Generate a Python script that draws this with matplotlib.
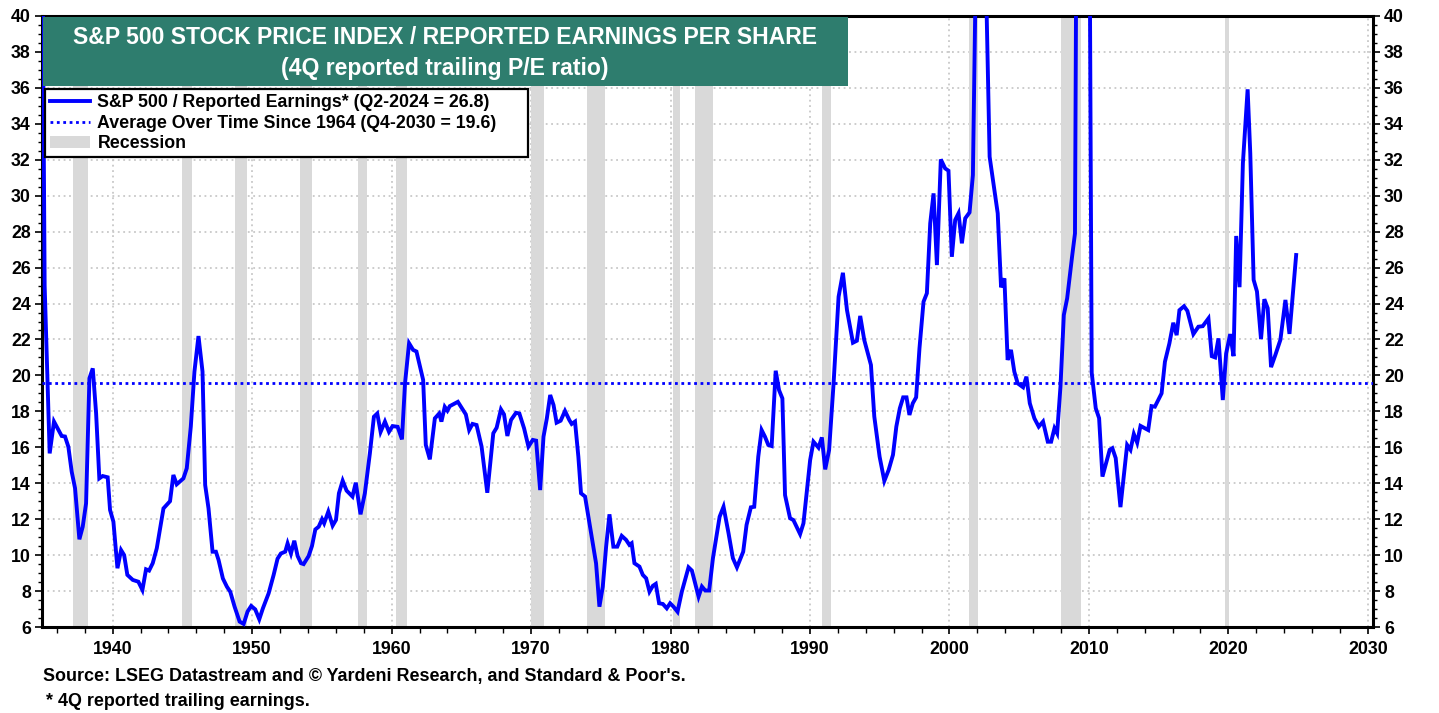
import numpy as np
import matplotlib
matplotlib.use("Agg")
import matplotlib.pyplot as plt
from matplotlib.lines import Line2D
from matplotlib.patches import Patch, Rectangle

plt.rcParams['font.family'] = ['Liberation Sans', 'DejaVu Sans']
plt.rcParams['font.weight'] = 'bold'

# S&P 500 / reported earnings (4Q trailing P/E)
pe_years = [
    1934.98, 1935.12, 1935.48, 1935.79, 1936.34, 1936.58, 1936.82, 1937.06, 1937.30, 1937.61,
    1937.85, 1938.09, 1938.33, 1938.57, 1938.81, 1939.04, 1939.28, 1939.64, 1939.81, 1940.05,
    1940.34, 1940.60, 1940.82, 1941.05, 1941.44, 1941.84, 1942.13, 1942.39, 1942.61, 1942.87,
    1943.16, 1943.64, 1944.11, 1944.35, 1944.59, 1945.07, 1945.31, 1945.60, 1945.86, 1946.15,
    1946.44, 1946.63, 1946.87, 1947.16, 1947.40, 1947.59, 1947.90, 1948.19, 1948.43, 1948.74,
    1949.10, 1949.39, 1949.67, 1949.93, 1950.22, 1950.51, 1950.77, 1951.18, 1951.54, 1951.82,
    1952.06, 1952.37, 1952.54, 1952.78, 1953.02, 1953.26, 1953.50, 1953.69, 1954.05, 1954.29,
    1954.53, 1954.77, 1955.01, 1955.16, 1955.46, 1955.77, 1956.01, 1956.22, 1956.49, 1956.77,
    1957.19, 1957.43, 1957.77, 1958.08, 1958.44, 1958.73, 1958.97, 1959.21, 1959.52, 1959.81,
    1960.07, 1960.43, 1960.74, 1960.96, 1961.25, 1961.54, 1961.78, 1962.26, 1962.45, 1962.74,
    1963.10, 1963.41, 1963.57, 1963.81, 1964.00, 1964.17, 1964.75, 1965.32, 1965.56, 1965.80,
    1966.09, 1966.45, 1966.86, 1967.29, 1967.53, 1967.84, 1968.06, 1968.30, 1968.56, 1968.92,
    1969.16, 1969.50, 1969.81, 1970.12, 1970.36, 1970.65, 1970.89, 1971.13, 1971.37, 1971.61,
    1971.83, 1972.12, 1972.43, 1972.74, 1972.91, 1973.15, 1973.39, 1973.58, 1973.87, 1974.23,
    1974.66, 1974.90, 1975.14, 1975.38, 1975.62, 1975.90, 1976.18, 1976.50, 1976.81, 1977.05,
    1977.21, 1977.41, 1977.77, 1978.01, 1978.25, 1978.49, 1978.73, 1978.94, 1979.18, 1979.45,
    1979.73, 1979.97, 1980.21, 1980.50, 1980.81, 1981.29, 1981.53, 1982.01, 1982.25, 1982.49,
    1982.77, 1983.04, 1983.52, 1983.80, 1984.16, 1984.47, 1984.76, 1985.21, 1985.45, 1985.76,
    1986.00, 1986.29, 1986.53, 1986.77, 1987.01, 1987.25, 1987.54, 1987.78, 1988.02, 1988.21,
    1988.57, 1988.81, 1989.29, 1989.53, 1990.01, 1990.25, 1990.61, 1990.85, 1991.09, 1991.37,
    1991.69, 1992.05, 1992.36, 1992.65, 1993.08, 1993.36, 1993.60, 1993.89, 1994.37, 1994.61,
    1994.99, 1995.33, 1995.64, 1995.95, 1996.19, 1996.44, 1996.68, 1996.92, 1997.13, 1997.37,
    1997.61, 1997.85, 1998.14, 1998.38, 1998.62, 1998.86, 1999.10, 1999.38, 1999.69, 1999.93,
    2000.17, 2000.41, 2000.65, 2000.89, 2001.13, 2001.44, 2001.68, 2001.97, 2002.51, 2002.88,
    2003.46, 2003.70, 2003.94, 2004.17, 2004.41, 2004.65, 2004.89, 2005.28, 2005.52, 2005.76,
    2006.09, 2006.40, 2006.71, 2007.05, 2007.29, 2007.53, 2007.72, 2007.96, 2008.20, 2008.44,
    2008.79, 2009.00, 2009.25, 2009.50, 2009.75, 2009.97, 2010.20, 2010.49, 2010.73, 2010.97,
    2011.49, 2011.68, 2011.92, 2012.26, 2012.74, 2012.98, 2013.22, 2013.46, 2013.70, 2014.25,
    2014.49, 2014.73, 2015.21, 2015.45, 2015.77, 2016.05, 2016.29, 2016.49, 2016.82, 2017.06,
    2017.49, 2017.85, 2018.16, 2018.57, 2018.81, 2019.05, 2019.29, 2019.60, 2019.84, 2020.13,
    2020.37, 2020.56, 2020.80, 2021.04, 2021.38, 2021.57, 2021.81, 2022.05, 2022.34, 2022.58,
    2022.82, 2023.06, 2023.37, 2023.73, 2024.09, 2024.38, 2024.86,
]
pe_values = [
    42.0, 25.0, 15.66, 17.43, 16.63, 16.6, 16.03, 14.64, 13.72, 10.88,
    11.58, 12.88, 19.84, 20.39, 17.89, 14.27, 14.4, 14.33, 12.51, 11.86,
    9.27, 10.28, 10.0, 8.9, 8.62, 8.52, 8.06, 9.21, 9.14, 9.55,
    10.38, 12.6, 13.0, 14.46, 13.94, 14.27, 14.83, 17.15, 20.21, 22.19,
    20.21, 13.9, 12.6, 10.19, 10.19, 9.73, 8.7, 8.24, 7.96, 7.13,
    6.3, 6.17, 6.86, 7.17, 6.98, 6.43, 7.04, 7.87, 8.9, 9.8,
    10.09, 10.19, 10.65, 10.09, 10.8, 9.95, 9.55, 9.5, 9.95, 10.51,
    11.43, 11.58, 12.0, 11.77, 12.42, 11.64, 11.96, 13.44, 14.14, 13.59,
    13.26, 14.03, 12.27, 13.44, 15.66, 17.7, 17.88, 16.86, 17.43, 16.86,
    17.18, 17.14, 16.44, 19.56, 21.79, 21.42, 21.33, 19.75, 16.13, 15.33,
    17.61, 17.88, 17.43, 18.25, 18.04, 18.29, 18.53, 17.83, 16.96, 17.3,
    17.24, 16.04, 13.47, 16.78, 17.09, 18.11, 17.83, 16.63, 17.52, 17.92,
    17.88, 17.05, 16.04, 16.41, 16.37, 13.62, 16.59, 17.61, 18.91, 18.35,
    17.37, 17.48, 18.02, 17.52, 17.3, 17.43, 15.48, 13.44, 13.26, 11.58,
    9.54, 7.13, 8.24, 10.47, 12.27, 10.47, 10.47, 11.07, 10.85, 10.57,
    10.66, 9.55, 9.36, 8.9, 8.71, 7.97, 8.29, 8.4, 7.32, 7.28,
    7.04, 7.32, 7.13, 6.85, 7.97, 9.32, 9.14, 7.69, 8.25, 8.03,
    8.03, 9.83, 12.14, 12.69, 11.21, 9.83, 9.32, 10.19, 11.68, 12.66,
    12.69, 15.48, 16.96, 16.59, 16.13, 16.07, 20.26, 19.18, 18.72, 13.34,
    12.05, 11.95, 11.17, 11.77, 15.29, 16.31, 15.98, 16.55, 14.77, 15.85,
    19.55, 24.38, 25.71, 23.64, 21.82, 21.93, 23.31, 21.97, 20.58, 17.71,
    15.48, 14.13, 14.74, 15.58, 17.15, 18.17, 18.78, 18.78, 17.8, 18.45,
    18.78, 21.51, 24.1, 24.57, 28.46, 30.13, 26.14, 32.02, 31.52, 31.39,
    26.6, 28.65, 29.02, 27.35, 28.74, 29.07, 31.15, 47.0, 46.0, 32.17,
    29.02, 24.9, 25.4, 20.86, 21.42, 20.21, 19.56, 19.34, 19.93, 18.45,
    17.61, 17.15, 17.43, 16.31, 16.31, 17.06, 16.78, 19.38, 23.36, 24.29,
    26.6, 27.9, 70.0, 120.0, 90.0, 58.0, 20.15, 18.17, 17.62, 14.37,
    15.86, 15.95, 15.4, 12.67, 16.13, 15.86, 16.74, 16.26, 17.19, 16.96,
    18.29, 18.26, 19.0, 20.76, 21.78, 22.93, 22.24, 23.63, 23.85, 23.59,
    22.3, 22.71, 22.74, 23.17, 21.07, 21.0, 22.06, 18.63, 21.22, 22.3,
    21.07, 27.76, 24.91, 31.8, 35.92, 32.36, 25.32, 24.67, 22.02, 24.24,
    23.74, 20.46, 21.14, 21.98, 24.2, 22.31, 26.7,
]
avg_since_1964 = 19.6

rec_start = [1937.13, 1944.99, 1948.79, 1953.43, 1957.61, 1960.29, 1969.99, 1974.03,
             1980.20, 1981.77, 1990.84, 2001.42, 2008.00, 2019.75]
rec_end = [1938.21, 1945.66, 1949.65, 1954.31, 1958.26, 1961.08, 1970.95, 1975.28,
           1980.68, 1983.02, 1991.48, 2002.06, 2009.45, 2020.06]

x_ticks = list(range(1940, 2031, 10))
y_ticks = list(range(6, 41, 2))

W, H = 1439, 713
fig = plt.figure(figsize=(W / 100, H / 100), dpi=100)
ax = fig.add_axes([42 / W, 1 - 627 / H, 1331 / W, 611 / H])

BLUE = "#0000ff"
for s, e in zip(rec_start, rec_end):
    ax.axvspan(s, e, color="#d9d9d9", lw=0, zorder=1)

ax.axhline(avg_since_1964, color=BLUE, lw=2.0, linestyle=(0, (1, 1.3)), zorder=3)
ax.plot(pe_years, pe_values, color=BLUE, lw=2.8, zorder=4, solid_joinstyle="miter")

ax.set_xlim(1934.93, 2030.37)
ax.set_ylim(6, 40)
ax.set_xticks(x_ticks)
ax.set_xticks(np.arange(1936, 2031, 2), minor=True)
ax.set_yticks(y_ticks)
ax.set_yticks(np.arange(6, 40.01, 0.5), minor=True)
ax.grid(True, which="major", color="#c8c8c8", linestyle=(0, (1, 2)), lw=1.3, zorder=0)
ax.set_axisbelow(True)

ax.tick_params(axis="y", which="both", direction="out", left=True, right=True,
               labelleft=True, labelright=True, labelsize=12.8, width=1.2, pad=3)
ax.tick_params(axis="y", which="major", length=5)
ax.tick_params(axis="y", which="minor", length=3, width=1)
ax.tick_params(axis="x", which="major", direction="out", length=5, width=1.2, labelsize=12.8, pad=5)
ax.tick_params(axis="x", which="minor", direction="out", length=4, width=1)
for lbl in ax.get_xticklabels() + ax.get_yticklabels():
    lbl.set_fontweight("bold")
for sp in ax.spines.values():
    sp.set_linewidth(2.2)
    sp.set_color("black")

# title box
ax.add_patch(Rectangle((0.001, 0.8854), 0.6045, 0.1126, transform=ax.transAxes,
                       facecolor="#2e7d6e", edgecolor="none", zorder=6, clip_on=False))
fig.text(445 / W, 1 - 37 / H, "S&P 500 STOCK PRICE INDEX / REPORTED EARNINGS PER SHARE",
         color="white", fontsize=16.6, fontweight="bold", ha="center", va="center", zorder=7)
fig.text(445 / W, 1 - 69 / H, "(4Q reported trailing P/E ratio)",
         color="white", fontsize=16.6, fontweight="bold", ha="center", va="center", zorder=7)

# legend: own frame (wider than the text, like the original)
fig.patches.append(Rectangle((45 / W, 1 - 157 / H), 483 / W, 68 / H, transform=fig.transFigure,
                             facecolor="white", edgecolor="black", lw=1.6, zorder=7))
handles = [
    Line2D([], [], color=BLUE, lw=2.8),
    Line2D([], [], color=BLUE, lw=2.0, linestyle=(0, (1, 1.3))),
    Patch(facecolor="#d9d9d9", edgecolor="none"),
]
labels = [
    "S&P 500 / Reported Earnings* (Q2-2024 = 26.8)",
    "Average Over Time Since 1964 (Q4-2030 = 19.6)",
    "Recession",
]
leg = fig.legend(handles, labels, loc="upper left", bbox_to_anchor=(45 / W, 1 - 89 / H),
                 borderaxespad=0, frameon=False,
                 prop={"weight": "bold", "size": 12.8}, handlelength=2.25, handletextpad=0.4,
                 labelspacing=0.2, borderpad=0.3)
leg.set_zorder(8)

fig.text(43 / W, 1 - 676 / H,
         "Source: LSEG Datastream and \u00a9 Yardeni Research, and Standard & Poor's.",
         fontsize=12.9, fontweight="bold", ha="left", va="center")
fig.text(46 / W, 1 - 701 / H, "* 4Q reported trailing earnings.",
         fontsize=12.9, fontweight="bold", ha="left", va="center")

fig.savefig("out.png", dpi=100)
